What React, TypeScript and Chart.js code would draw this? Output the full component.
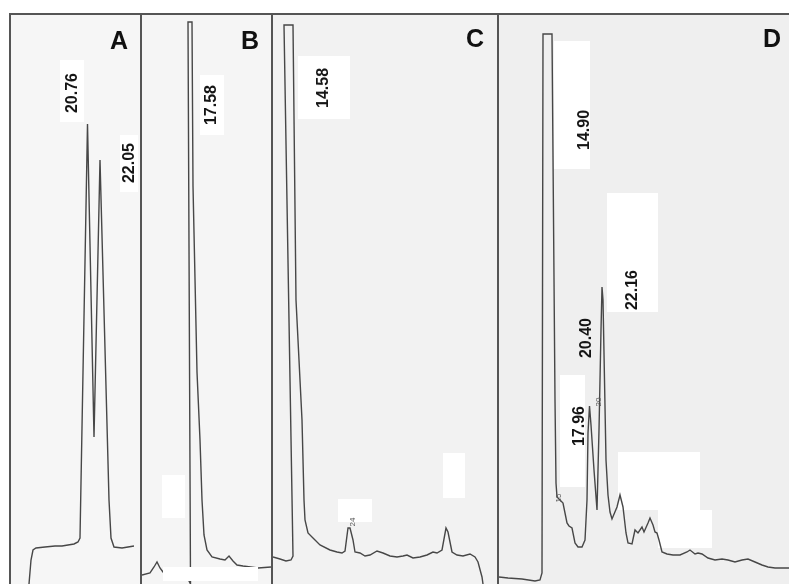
import React, { useEffect, useRef } from "react";
import { Chart, registerables } from "chart.js";

Chart.register(...registerables);

// ---- Data (chart-paper position across the panel, detector response above the bottom edge) ----
const traceA_pos = [18, 20, 22, 25, 34, 44, 51, 57, 63, 67, 69, 76.5, 83, 89, 98, 100, 103, 111, 117, 123];
const traceA_resp = [0, 24, 34, 36, 37, 38, 38, 39, 40, 42, 46, 460, 147, 424, 84, 46, 37, 36, 37, 38];

const traceB_pos = [0, 8, 12, 15, 18, 21, 33, 44, 48.5, 46, 50, 51, 55, 58, 60, 62, 65, 70, 78, 83, 87, 91, 95, 101, 116, 129];
const traceB_resp = [9, 11, 17, 22, 16, 12, 10, 9, 0, 562, 562, 398, 212, 144, 84, 49, 34, 27, 25, 24, 28, 23, 19, 18, 16, 17];

const traceC_pos = [0, 7, 13, 18, 20, 11, 20, 23, 29, 31, 32, 35, 40, 47, 57, 64, 69, 72, 75, 77, 80, 82, 87, 92, 97, 104, 110, 117, 124, 130, 134, 140, 147, 154, 160, 164, 169, 173, 175, 179, 184, 190, 197, 202, 205, 209, 210];
const traceC_resp = [27, 25, 23, 24, 28, 559, 559, 284, 164, 84, 64, 51, 46, 39, 34, 32, 31, 33, 56, 56, 44, 32, 31, 28, 29, 33, 31, 28, 27, 28, 29, 26, 27, 29, 32, 31, 34, 56, 52, 32, 29, 28, 30, 27, 22, 7, 0];

const traceD_pos = [0, 9, 23, 36, 41, 43, 44, 53, 56, 57, 58, 61, 64, 66, 68, 70, 73, 76, 79, 83, 86, 88, 89, 90.5, 92, 95, 98, 100, 102, 103, 104, 105.5, 107, 109, 111, 113, 118, 121, 124, 127, 129, 133, 136, 139, 143, 145, 149, 151, 154, 156, 158, 160, 163, 168, 174, 181, 188, 191, 196, 199, 203, 209, 216, 223, 229, 236, 243, 249, 256, 263, 269, 276, 283, 291];
const traceD_resp = [7, 6, 5, 3, 4, 11, 550, 550, 184, 101, 87, 84, 81, 71, 61, 58, 56, 41, 37, 37, 44, 84, 151, 178, 159, 114, 74, 154, 254, 297, 284, 204, 124, 89, 72, 65, 77, 89, 77, 51, 41, 40, 54, 51, 57, 52, 61, 66, 59, 52, 51, 44, 32, 30, 29, 29, 32, 34, 30, 31, 30, 26, 24, 25, 24, 22, 24, 25, 22, 19, 17, 16, 16, 16];

const panelLetters = ["A", "B", "C", "D"];
const peakLabelsA = ["20.76", "22.05"];
const peakLabelsB = ["17.58"];
const peakLabelsC = ["14.58"];
const peakLabelsD = ["14.90", "22.16", "20.40", "17.96"];
const minorLabelsC = ["24"];
const minorLabelsD = ["15", "20"];

// ---- Layout (page pixels) ----
const TOP = 15;
const BOTTOM = 584;
const PANEL_H = BOTTOM - TOP;
const panels = [
  { left: 11, width: 129, pos: traceA_pos, resp: traceA_resp, letterAt: [119, 40], paper: "#f6f6f6" },
  { left: 142, width: 129, pos: traceB_pos, resp: traceB_resp, letterAt: [250, 40], paper: "#f5f5f5" },
  { left: 273, width: 224, pos: traceC_pos, resp: traceC_resp, letterAt: [475, 38], paper: "#f2f2f2" },
  { left: 499, width: 290, pos: traceD_pos, resp: traceD_resp, letterAt: [772, 38], paper: "#efefef" },
];

const whiteBoxesBehind: [number, number, number, number][] = [
  [60, 60, 84, 122],
  [120, 135, 138, 192],
  [200, 75, 224, 135],
  [162, 475, 185, 518],
  [298, 56, 350, 119],
  [338, 499, 372, 522],
  [443, 453, 465, 498],
  [554, 41, 590, 169],
  [607, 193, 658, 312],
  [560, 375, 585, 487],
  [618, 452, 700, 510],
  [658, 510, 712, 548],
];
const whiteBoxesFront: [number, number, number, number][] = [[163, 567, 258, 581]];

const majorLabelPos: { text: string; x: number; y: number }[] = [
  { text: peakLabelsA[0], x: 72, y: 93 },
  { text: peakLabelsA[1], x: 129, y: 163 },
  { text: peakLabelsB[0], x: 211, y: 105 },
  { text: peakLabelsC[0], x: 323, y: 88 },
  { text: peakLabelsD[0], x: 584, y: 130 },
  { text: peakLabelsD[1], x: 632, y: 290 },
  { text: peakLabelsD[2], x: 586, y: 338 },
  { text: peakLabelsD[3], x: 579, y: 426 },
];
const minorLabelPos: { text: string; x: number; y: number }[] = [
  { text: minorLabelsC[0], x: 353, y: 522 },
  { text: minorLabelsD[0], x: 559, y: 498 },
  { text: minorLabelsD[1], x: 599, y: 402 },
];

function Trace({ left, width, pos, resp }: { left: number; width: number; pos: number[]; resp: number[] }) {
  const ref = useRef<HTMLCanvasElement | null>(null);
  useEffect(() => {
    const canvas = ref.current;
    if (!canvas) return;
    const chart = new Chart(canvas, {
      type: "line",
      data: {
        datasets: [
          {
            data: pos.map((p, i) => ({ x: p, y: resp[i] })),
            borderColor: "#474747",
            borderWidth: 1.4,
            pointRadius: 0,
            tension: 0,
            fill: false,
          },
        ],
      },
      options: {
        animation: false,
        responsive: false,
        maintainAspectRatio: false,
        events: [],
        layout: { padding: 0 },
        plugins: { legend: { display: false }, tooltip: { enabled: false }, title: { display: false } },
        scales: {
          x: { type: "linear", min: 0, max: width, display: false },
          y: { type: "linear", min: 0, max: PANEL_H, display: false },
        },
      },
    });
    return () => chart.destroy();
  }, [left, width, pos, resp]);
  return (
    <canvas
      ref={ref}
      width={width}
      height={PANEL_H}
      style={{ position: "absolute", left, top: TOP, width, height: PANEL_H }}
    />
  );
}

export default function App() {
  const box = (b: [number, number, number, number], k: string, z: number) => (
    <div
      key={k}
      style={{
        position: "absolute",
        left: b[0],
        top: b[1],
        width: b[2] - b[0],
        height: b[3] - b[1],
        background: "#ffffff",
        zIndex: z,
      }}
    />
  );
  return (
    <div
      style={{
        position: "fixed",
        left: 0,
        top: 0,
        width: 789,
        height: 584,
        overflow: "hidden",
        background: "#ffffff",
        fontFamily: "'Liberation Sans', Arial, sans-serif",
      }}
    >
      {/* panel paper */}
      {panels.map((p, i) => (
        <div
          key={"p" + i}
          style={{ position: "absolute", left: p.left, top: TOP, width: p.width, height: PANEL_H, background: p.paper }}
        />
      ))}
      {whiteBoxesBehind.map((b, i) => box(b, "wb" + i, 1))}
      {/* frame */}
      <div style={{ position: "absolute", left: 9, top: 13, width: 780, height: 2, background: "#555", zIndex: 3 }} />
      {[9, 140, 271, 497].map((x, i) => (
        <div key={"v" + i} style={{ position: "absolute", left: x, top: 13, width: 2, height: 571, background: "#555", zIndex: 3 }} />
      ))}
      <div style={{ position: "absolute", left: 0, top: 0, width: 789, height: 584, zIndex: 2 }}>
        {panels.map((p, i) => (
          <Trace key={i} left={p.left} width={p.width} pos={p.pos} resp={p.resp} />
        ))}
      </div>
      {whiteBoxesFront.map((b, i) => box(b, "wf" + i, 4))}
      {panels.map((p, i) => (
        <div
          key={"l" + i}
          style={{
            position: "absolute",
            left: p.letterAt[0],
            top: p.letterAt[1],
            transform: "translate(-50%, -50%)",
            fontSize: 25,
            fontWeight: 700,
            lineHeight: 1,
            color: "#111",
            zIndex: 5,
          }}
        >
          {panelLetters[i]}
        </div>
      ))}
      {majorLabelPos.map((l, i) => (
        <div
          key={"m" + i}
          style={{
            position: "absolute",
            left: l.x,
            top: l.y,
            transform: "translate(-50%, -50%) rotate(-90deg)",
            fontSize: 16,
            fontWeight: 700,
            lineHeight: 1,
            whiteSpace: "nowrap",
            color: "#151515",
            zIndex: 5,
          }}
        >
          {l.text}
        </div>
      ))}
      {minorLabelPos.map((l, i) => (
        <div
          key={"n" + i}
          style={{
            position: "absolute",
            left: l.x,
            top: l.y,
            transform: "translate(-50%, -50%) rotate(-90deg)",
            fontSize: 8,
            lineHeight: 1,
            whiteSpace: "nowrap",
            color: "#555",
            zIndex: 5,
          }}
        >
          {l.text}
        </div>
      ))}
    </div>
  );
}
